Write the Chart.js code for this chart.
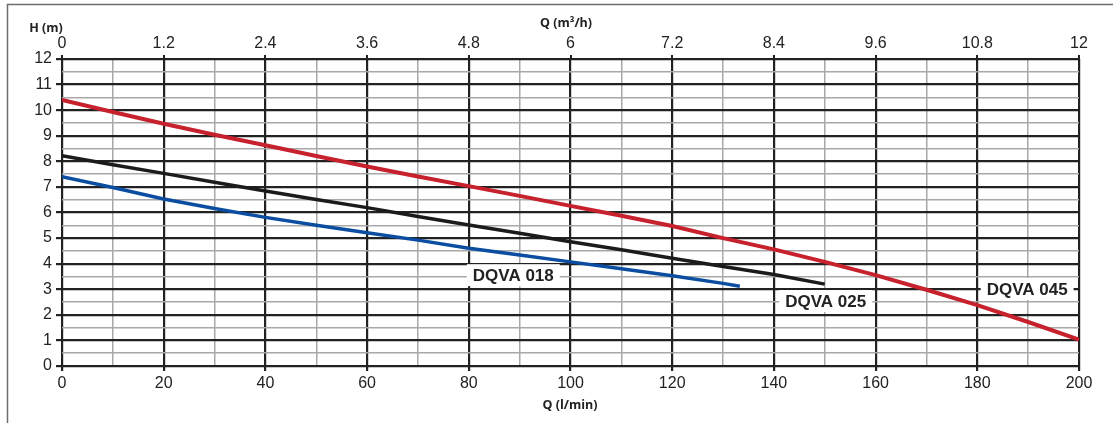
<!DOCTYPE html>
<html>
<head>
<meta charset="utf-8">
<script src="https://cdn.jsdelivr.net/npm/chart.js@4/dist/chart.umd.min.js"></script>
<style>
  html, body { margin: 0; padding: 0; background: #fff; }
  #wrap { width: 1113px; height: 423px; }
</style>
</head>
<body>
<div id="wrap"><canvas id="pumpChart" width="1113" height="423"></canvas></div>
<script>
// Flow in l/min and head in m
const flowDQVA045 = [0, 10, 20, 30, 40, 50, 60, 70, 80, 90, 100, 110, 120, 130, 140, 150, 160, 170, 180, 190, 200];
const headDQVA045 = [10.4, 9.93, 9.47, 9.04, 8.63, 8.21, 7.8, 7.41, 7.03, 6.65, 6.26, 5.87, 5.47, 5.0, 4.56, 4.07, 3.55, 2.98, 2.38, 1.72, 1.03];

const flowDQVA025 = [0, 10, 20, 30, 40, 50, 60, 70, 80, 90, 100, 110, 120, 130, 140, 150];
const headDQVA025 = [8.22, 7.87, 7.53, 7.18, 6.84, 6.51, 6.19, 5.84, 5.51, 5.19, 4.86, 4.54, 4.21, 3.89, 3.58, 3.2];

const flowDQVA018 = [0, 10, 20, 30, 40, 50, 60, 70, 80, 90, 100, 110, 120, 130, 133.3];
const headDQVA018 = [7.4, 6.98, 6.53, 6.16, 5.81, 5.5, 5.21, 4.92, 4.6, 4.34, 4.07, 3.8, 3.53, 3.23, 3.12];

const seriesNames = ['DQVA 018', 'DQVA 025', 'DQVA 045'];

// top axis in m3/h (same span as 0-200 l/min)
const topTicks = [0, 1.2, 2.4, 3.6, 4.8, 6, 7.2, 8.4, 9.6, 10.8, 12];
const topTickLabels = ['0', '1.2', '2.4', '3.6', '4.8', '6', '7.2', '8.4', '9.6', '10.8', '12'];

const DARK = '#222222';
const LIGHT = '#a8a8a8';

function toPoints(xs, ys) {
    return xs.map(function (x, i) { return { x: x, y: ys[i] }; });
}

// curve name tags with a white box behind, plus the titles and frame
const annotations = {
    id: 'annotations',
    afterDraw: function (chart) {
        const ctx = chart.ctx;
        const xs = chart.scales.x;
        const ys = chart.scales.y;
        ctx.save();

        // outer frame (top and left only)
        ctx.strokeStyle = '#6e6e6e';
        ctx.lineWidth = 1.5;
        ctx.beginPath();
        ctx.moveTo(7.5, 423);
        ctx.lineTo(7.5, 4.5);
        ctx.lineTo(1113, 4.5);
        ctx.stroke();

        // axis titles
        ctx.fillStyle = DARK;
        ctx.font = 'bold 12.5px "Open Sans", Arial, sans-serif';
        ctx.textBaseline = 'middle';
        ctx.textAlign = 'center';
        ctx.fillText('H (m)', 46, 28);
        ctx.fillText('Q (m³/h)', 566, 23);
        ctx.fillText('Q (l/min)', 570, 405);

        // series tags
        const tagPos = [[88.75, 3.55], [150.2, 2.54], [189.8, 3.01]];
        ctx.font = 'bold 17px "Liberation Sans", Arial, sans-serif';
        ctx.textBaseline = 'alphabetic';
        seriesNames.forEach(function (name, i) {
            const cx = xs.getPixelForValue(tagPos[i][0]);
            const cy = ys.getPixelForValue(tagPos[i][1]);
            const w = ctx.measureText(name).width;
            ctx.fillStyle = '#ffffff';
            ctx.fillRect(cx - w / 2 - 6, cy - 11, w + 12, 22);
            ctx.fillStyle = DARK;
            ctx.fillText(name, cx, cy + 6.1);
        });
        ctx.restore();
    }
};

function isMajor(c, step) {
    return c.tick && Math.abs(c.tick.value % step) < 1e-6;
}
function gridColor(step) {
    return function (c) { return isMajor(c, step) ? DARK : LIGHT; };
}
function gridWidth(step) {
    return function (c) { return isMajor(c, step) ? 2.2 : 1.5; };
}
function tickColor(step) {
    return function (c) { return isMajor(c, step) ? DARK : 'rgba(0,0,0,0)'; };
}

const tickFont = { family: '"Liberation Sans", Arial, sans-serif', size: 16 };

new Chart(document.getElementById('pumpChart'), {
    type: 'line',
    data: {
        datasets: [
            {
                label: seriesNames[0],
                data: toPoints(flowDQVA018, headDQVA018),
                borderColor: '#0b4da0',
                borderWidth: 3.5
            },
            {
                label: seriesNames[1],
                data: toPoints(flowDQVA025, headDQVA025),
                borderColor: '#1b1b1b',
                borderWidth: 3.5
            },
            {
                label: seriesNames[2],
                data: toPoints(flowDQVA045, headDQVA045),
                borderColor: '#c6212c',
                borderWidth: 4
            }
        ]
    },
    options: {
        responsive: false,
        animation: false,
        layout: { padding: { top: 30, right: 34, bottom: 20, left: 0 } },
        elements: { point: { radius: 0 }, line: { tension: 0 } },
        plugins: {
            legend: { display: false },
            tooltip: { enabled: false }
        },
        scales: {
            x: {
                type: 'linear',
                position: 'bottom',
                min: 0,
                max: 200,
                ticks: {
                    stepSize: 10,
                    autoSkip: false,
                    maxRotation: 0,
                    color: DARK,
                    font: tickFont,
                    padding: 3,
                    callback: function (v) { return v % 20 === 0 ? v : ''; }
                },
                grid: {
                    color: gridColor(20),
                    lineWidth: gridWidth(20),
                    tickColor: tickColor(20),
                    tickLength: 5
                },
                border: { display: false },
                afterFit: function (s) { s.height = 423 - 366 - 20; }
            },
            x2: {
                type: 'linear',
                position: 'top',
                min: 0,
                max: 12,
                afterBuildTicks: function (s) {
                    s.ticks = topTicks.map(function (v) { return { value: v }; });
                },
                ticks: {
                    autoSkip: false,
                    maxRotation: 0,
                    color: DARK,
                    font: tickFont,
                    padding: 2,
                    callback: function (v, i) { return topTickLabels[i]; }
                },
                grid: {
                    drawOnChartArea: false,
                    color: DARK,
                    lineWidth: 2,
                    tickLength: 4
                },
                border: { display: false },
                afterFit: function (s) { s.height = 59 - 30; }
            },
            y: {
                type: 'linear',
                min: 0,
                max: 12,
                ticks: {
                    stepSize: 0.5,
                    autoSkip: false,
                    color: DARK,
                    font: tickFont,
                    padding: 4,
                    callback: function (v) { return Number.isInteger(v) ? v : ''; }
                },
                grid: {
                    color: gridColor(1),
                    lineWidth: gridWidth(1),
                    tickColor: tickColor(1),
                    tickLength: 6
                },
                border: { display: false },
                afterFit: function (s) { s.width = 62; }
            }
        }
    },
    plugins: [annotations]
});
</script>
</body>
</html>
